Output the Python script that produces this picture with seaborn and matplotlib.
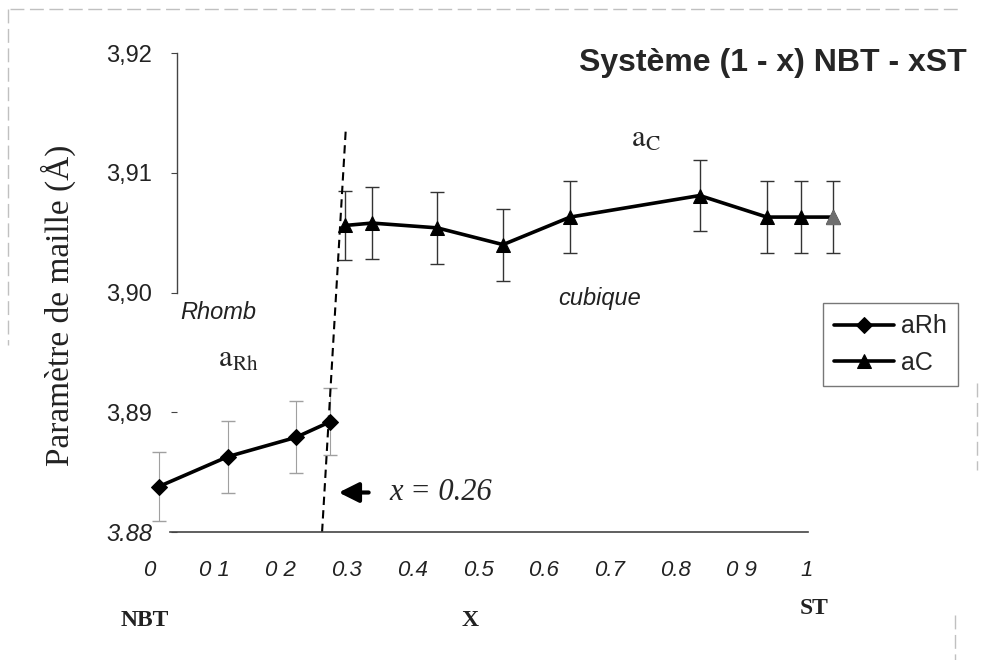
import numpy as np
import pandas as pd
import seaborn as sns
import matplotlib.pyplot as plt
from matplotlib.lines import Line2D

####Data
# rhombohedral phase
rh_x = [0.015, 0.12, 0.223, 0.275]
rh_a = [3.8838, 3.8863, 3.8879, 3.8892]
rh_err = [0.0029, 0.0030, 0.0030, 0.0028]

# cubic phase
cub_x = [0.298, 0.339, 0.438, 0.538, 0.640, 0.837, 0.939, 0.991, 1.040]
cub_a = [3.9056, 3.9058, 3.9054, 3.9040, 3.9063, 3.9081, 3.9063, 3.9063, 3.9063]
cub_err = [0.0029, 0.0030, 0.0030, 0.0030, 0.0030, 0.0030, 0.0030, 0.0030, 0.0030]

# phase boundary (dashed)
bound_x = [0.263, 0.299]
bound_y = [3.880, 3.9136]

x_ticks = [0.0, 0.1, 0.2, 0.3, 0.4, 0.5, 0.6, 0.7, 0.8, 0.9, 1.0]
x_labels = ['0', '0 1', '0 2', '0.3', '0.4', '0.5', '0.6', '0.7', '0.8', '0 9', '1']
y_ticks = [3.88, 3.89, 3.90, 3.91, 3.92]
y_labels = ['3.88', '3,89', '3,90', '3,91', '3,92']

rh = pd.DataFrame({'x': rh_x, 'a': rh_a})
cub = pd.DataFrame({'x': cub_x, 'a': cub_a})

####Style
sns.set_theme(style='white')
plt.rcParams['font.family'] = ['Liberation Sans', 'DejaVu Sans']
plt.rcParams['mathtext.fontset'] = 'stix'

fig = plt.figure(figsize=(9.85, 6.6), dpi=100)
ax = fig.add_axes([0.1513, 0.1939, 0.835, 0.7439])

####Error bars
ax.errorbar(rh_x, rh_a, yerr=rh_err, fmt='none', ecolor='#a0a0a0',
            elinewidth=0.8, capsize=5, capthick=1, zorder=2)
ax.errorbar(cub_x, cub_a, yerr=cub_err, fmt='none', ecolor='#333333',
            elinewidth=1, capsize=5, capthick=1, zorder=2)

####Series
sns.lineplot(data=rh, x='x', y='a', ax=ax, color='black', marker='D',
             markersize=8, markeredgecolor='black', linewidth=2.6,
             label='aRh', zorder=3)
sns.lineplot(data=cub, x='x', y='a', ax=ax, color='black', marker='^',
             markersize=10, markeredgecolor='black', linewidth=2.6,
             label='aC', zorder=3)
# last triangle looks grey in the scan
ax.plot(cub_x[-1:], cub_a[-1:], marker='^', ms=10, color='#6e6e6e',
        markeredgecolor='#6e6e6e', ls='none', zorder=4)

ax.plot(bound_x, bound_y, color='black', lw=1.5, ls=(0, (4, 2.5)), zorder=2)

####Axes
ax.set_xlim(0.0, 1.25)
ax.set_ylim(3.88, 3.921)
ax.set_xlabel('')
ax.set_ylabel('')
for s in ['top', 'right']:
    ax.spines[s].set_visible(False)
ax.spines['left'].set_position(('data', 0.043))
ax.spines['left'].set_bounds(3.90, 3.92)
ax.spines['left'].set_color('#444444')
ax.spines['left'].set_linewidth(1)
ax.spines['bottom'].set_bounds(0.032, 1.002)
ax.spines['bottom'].set_color('#444444')
ax.spines['bottom'].set_linewidth(1.2)

ax.set_xticks(x_ticks)
ax.set_xticklabels(x_labels, fontstyle='italic', fontsize=16, color='#222222')
ax.tick_params(axis='x', length=0, pad=20)
ax.set_yticks(y_ticks)
ax.set_yticklabels(y_labels, fontsize=17, color='#222222')
ax.get_yticklabels()[0].set_fontstyle('italic')
ax.tick_params(axis='y', length=4, width=0.8, color='#444444', pad=14, left=True)

####Legend
leg = ax.legend(loc='upper left', bbox_to_anchor=(823 / 985, 1 - 303 / 660),
                bbox_transform=fig.transFigure, fontsize=18, frameon=True,
                fancybox=False, handlelength=2.4, handletextpad=0.25,
                borderpad=0.45, labelspacing=0.5, borderaxespad=0)
leg.get_frame().set_edgecolor('#555555')
leg.get_frame().set_linewidth(1)

####Annotations
ax.text(0.047, 3.8983, 'Rhomb', fontsize=17, fontstyle='italic',
        ha='left', va='center', color='#222222')
ax.text(0.135, 3.8945, r'$\mathrm{a}_{\mathrm{Rh}}$', fontsize=22,
        ha='center', va='center')
ax.text(0.685, 3.8995, 'cubique', fontsize=17, fontstyle='italic',
        ha='center', va='center', color='#222222')
ax.text(0.755, 3.9128, r'$\mathrm{a}_{\mathrm{C}}$', fontsize=22,
        ha='center', va='center')
ax.annotate('', xy=(0.284, 3.8833), xytext=(0.338, 3.8833),
            arrowprops=dict(arrowstyle='-|>,head_length=1.0,head_width=0.5',
                            color='black', lw=3))
ax.text(0.366, 3.8833, 'x = 0.26', family=['Liberation Serif', 'DejaVu Serif'],
        fontstyle='italic', fontsize=22, ha='left', va='center')

fig.text(967 / 985, 1 - 63 / 660, 'Système (1 - x) NBT - xST', fontsize=23,
         fontweight='bold', ha='right', va='center')
fig.text(58 / 985, 1 - 305 / 660, 'Paramètre de maille (Å)', rotation=90,
         family=['Liberation Serif', 'DejaVu Serif'], fontsize=24,
         ha='center', va='center', color='#222222')
for lab, px, py in [('NBT', 145, 620), ('X', 470, 620), ('ST', 814, 608)]:
    fig.text(px / 985, 1 - py / 660, lab, family=['Liberation Serif', 'DejaVu Serif'],
             fontweight='bold', fontsize=17, ha='center', va='center', color='#222222')

####Scan frame remnants
for xs, ys in [([10, 960], [9, 9]), ([8, 8], [9, 345]),
               ([977, 977], [383, 470]), ([955, 955], [615, 660])]:
    fig.add_artist(Line2D([x / 985 for x in xs], [1 - y / 660 for y in ys],
                          color='#c0c0c0', lw=1, ls=(0, (10, 4))))

fig.savefig('out.png', dpi=100)
